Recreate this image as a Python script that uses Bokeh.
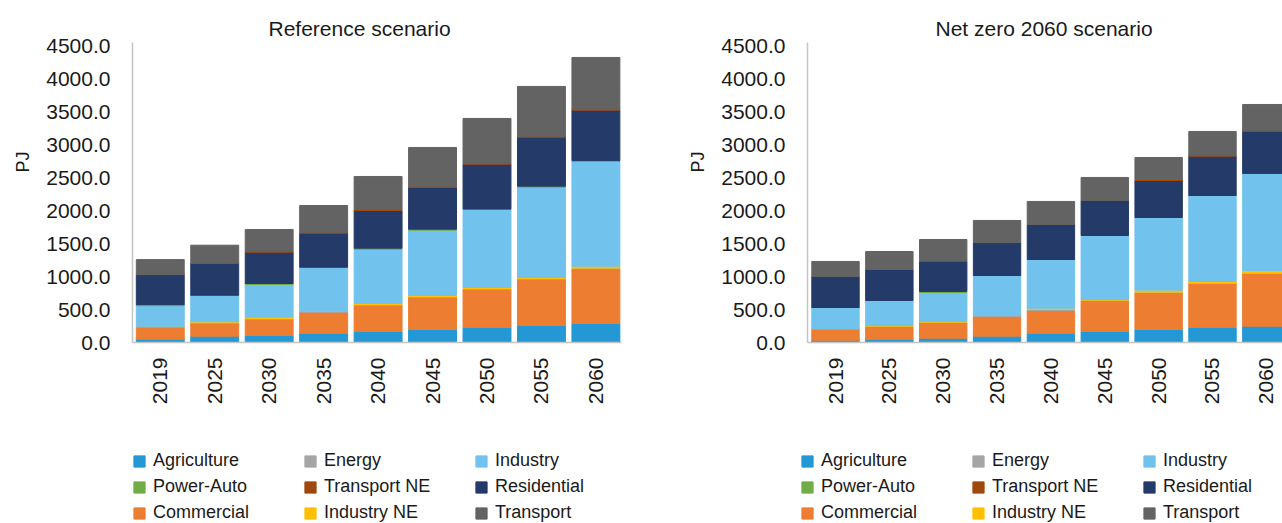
import math
from bokeh.plotting import figure
from bokeh.layouts import row, column
from bokeh.models import (ColumnDataSource, Range1d, FixedTicker, NumeralTickFormatter,
                          Legend, LegendItem, Title)
from bokeh.embed import file_html
from bokeh.resources import INLINE

years = ["2019", "2025", "2030", "2035", "2040", "2045", "2050", "2055", "2060"]
sectors = ["Agriculture", "Commercial", "Energy", "Industry NE", "Industry",
           "Power-Auto", "Residential", "Transport NE", "Transport"]
colors = ["#2398d5", "#ed7d31", "#a5a5a5", "#ffc000", "#71c2ec",
          "#70ad47", "#243a69", "#9e480e", "#636363"]
legend_order = ["Agriculture", "Energy", "Industry",
                "Power-Auto", "Transport NE", "Residential",
                "Commercial", "Industry NE", "Transport"]

# Reference scenario (PJ)
ref_agriculture = [50, 96, 106, 137, 167, 197, 228, 258, 288]
ref_commercial = [180, 197, 243, 323, 394, 490, 576, 698, 835]
ref_energy = [15, 8, 15, 10, 15, 8, 15, 15, 5]
ref_industry_ne = [0, 13, 20, 5, 16, 18, 15, 15, 29]
ref_industry = [314, 399, 496, 663, 823, 991, 1183, 1370, 1589]
ref_power_auto = [15, 5, 15, 5, 16, 15, 8, 15, 15]
ref_residential = [456, 485, 475, 515, 571, 632, 680, 743, 763]
ref_transport_ne = [0, 0, 15, 15, 16, 20, 15, 16, 15]
ref_transport = [227, 273, 329, 405, 500, 587, 678, 754, 784]

# Net zero 2060 scenario (PJ)
nz_agriculture = [35, 50, 65, 96, 137, 167, 197, 228, 247]
nz_commercial = [162, 193, 238, 298, 348, 470, 561, 667, 800]
nz_energy = [15, 5, 5, 16, 15, 5, 5, 5, 5]
nz_industry_ne = [0, 10, 15, 0, 20, 10, 31, 25, 40]
nz_industry = [319, 379, 435, 606, 739, 971, 1102, 1305, 1472]
nz_power_auto = [0, 0, 16, 0, 0, 0, 0, 0, 0]
nz_residential = [470, 470, 455, 501, 531, 531, 561, 596, 637]
nz_transport_ne = [0, 0, 15, 0, 0, 0, 16, 15, 15]
nz_transport = [228, 273, 318, 334, 349, 349, 333, 360, 394]

y_ticks = [0, 500, 1000, 1500, 2000, 2500, 3000, 3500, 4000, 4500]

FONT = "Liberation Sans"
TEXT = "#1a1a1a"


def make_fig(title, src, width, border_left, border_right, x_start, x_end, title_offset):
    p = figure(width=width, height=440, x_range=Range1d(x_start, x_end),
               y_range=Range1d(0, 4550), output_backend="svg", toolbar_location=None,
               min_border_left=border_left, min_border_right=border_right,
               min_border_top=42, min_border_bottom=98)
    p.outline_line_color = None
    p.grid.visible = False
    p.vbar_stack(sectors, x="x", width=0.88, color=colors, source=src)

    p.yaxis.ticker = FixedTicker(ticks=y_ticks)
    p.yaxis.formatter = NumeralTickFormatter(format="0.0")
    p.xaxis.ticker = FixedTicker(ticks=list(range(len(years))))
    p.xaxis.major_label_overrides = {i: y for i, y in enumerate(years)}
    p.xaxis.major_label_orientation = math.pi / 2
    for ax in (p.xaxis, p.yaxis):
        ax.axis_line_color = "#c4c4c4"
        ax.axis_line_width = 1.5
        ax.major_tick_line_color = None
        ax.minor_tick_line_color = None
        ax.major_label_text_font = FONT
        ax.major_label_text_font_size = "21px"
        ax.major_label_text_color = TEXT
    p.xaxis.major_label_standoff = 9
    p.yaxis.major_label_standoff = 16

    p.add_layout(Title(text=title, align="left", offset=title_offset, standoff=6,
                       text_font=FONT, text_font_size="21px", text_font_style="normal",
                       text_color=TEXT), "above")
    p.add_layout(Title(text="PJ", align="left", offset=170, standoff=21,
                       text_font=FONT, text_font_size="18px", text_font_style="normal",
                       text_color=TEXT), "left")
    return p


def make_legend_fig(src, width, x_offset):
    # the stacked bars sit outside this figure's view; only the legend shows
    lf = figure(width=width, height=83, x_range=Range1d(-30, -20), y_range=Range1d(0, 4550),
                output_backend="svg", toolbar_location=None,
                x_axis_location=None, y_axis_location=None,
                min_border_left=0, min_border_right=0, min_border_top=0, min_border_bottom=0)
    lf.outline_line_color = None
    lf.grid.visible = False
    rends = lf.vbar_stack(sectors, x="x", width=0.88, color=colors, source=src)
    by_name = dict(zip(sectors, rends))
    items = [LegendItem(label=n, renderers=[by_name[n]]) for n in legend_order]
    leg = Legend(items=items, location=(x_offset, 0), orientation="horizontal", ncols=3,
                 glyph_width=14, glyph_height=14, label_standoff=7, label_width=145,
                 label_height=20, spacing=5, padding=0, margin=0,
                 border_line_color=None, background_fill_alpha=0,
                 label_text_font=FONT, label_text_font_size="18px",
                 label_text_color=TEXT)
    lf.add_layout(leg, "center")
    return lf


ref_src = ColumnDataSource(dict(x=list(range(len(years))), **dict(zip(sectors, [
    ref_agriculture, ref_commercial, ref_energy, ref_industry_ne, ref_industry,
    ref_power_auto, ref_residential, ref_transport_ne, ref_transport]))))
nz_src = ColumnDataSource(dict(x=list(range(len(years))), **dict(zip(sectors, [
    nz_agriculture, nz_commercial, nz_energy, nz_industry_ne, nz_industry,
    nz_power_auto, nz_residential, nz_transport_ne, nz_transport]))))

p1 = make_fig("Reference scenario", ref_src, 675, 131, 54, -0.51, 8.47, 136)
p2 = make_fig("Net zero 2060 scenario", nz_src, 607, 123, 0, -0.52, 8.30, 128)
l1 = make_legend_fig(ref_src, 675, 132)
l2 = make_legend_fig(nz_src, 607, 125)

layout = column(row(p1, p2), row(l1, l2))
open("out.html", "w").write(file_html(layout, INLINE))
